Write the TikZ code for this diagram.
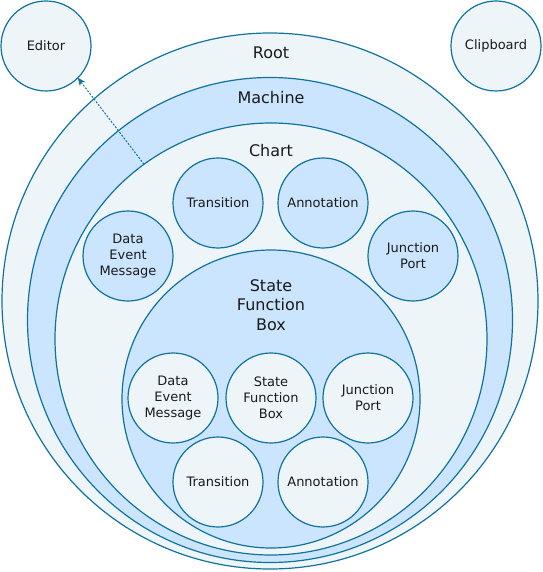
\documentclass[tikz,border=0pt]{standalone}
\usepackage{fontspec}
\setmainfont{DejaVu Sans}
\usetikzlibrary{arrows.meta,positioning}
\definecolor{ringblue}{HTML}{10739E}
\definecolor{palefill}{HTML}{EEF5F9}
\definecolor{lightblue}{HTML}{CCE5FF}
\definecolor{labelgray}{HTML}{1A1A1A}

\begin{document}
\begin{tikzpicture}[x=1pt,y=-1pt,
    ring/.style={circle,draw=ringblue,line width=1.2pt,outer sep=0pt,inner sep=0pt,minimum size=#1},
    item/.style={ring=90pt,text=labelgray,align=center,font=\fontsize{13}{16}\selectfont},
    title/.style={text=labelgray,align=center,font=\fontsize{16}{19.5}\selectfont}]
        \useasboundingbox (0,0) rectangle (542,572);
        %Rings
        \node[ring=536pt,fill=palefill] (root) at (270,301) {};
        \node[title] (rootlabel) at (271,53) {Root};
        \node[ring=485pt,fill=lightblue] (machine) at (270,320) {};
        \node[title] (machinelabel) at (271,98) {Machine};
        \node[ring=432pt,fill=palefill] (chart) at (271,339) {};
        \node[title] (chartlabel) at (271,151) {Chart};
        %Chart items
        \node[item,fill=lightblue] (chartdata) at (128,256) {Data\\Event\\Message};
        \node[item,fill=lightblue] (charttrans) at (218,203) {Transition};
        \node[item,fill=lightblue] (chartnote) at (323,203) {Annotation};
        \node[item,fill=lightblue] (chartjunc) at (413,256) {Junction\\Port};
        %State
        \node[ring=298pt,fill=lightblue] (state) at (271,399) {};
        \node[title] (statelabel) at (271,305) {State\\Function\\Box};
        %State items
        \node[item,fill=palefill] (statedata) at (173,398) {Data\\Event\\Message};
        \node[item,fill=palefill] (statebox) at (271,398) {State\\Function\\Box};
        \node[item,fill=palefill] (statejunc) at (368,398) {Junction\\Port};
        \node[item,fill=palefill] (statetrans) at (218,482) {Transition};
        \node[item,fill=palefill] (statenote) at (323,482) {Annotation};
        %Outside
        \node[item,fill=palefill] (editor) at (46,46) {Editor};
        \node[item,fill=palefill] (clipboard) at (496,46) {Clipboard};
        %Link
        \draw[ringblue,line width=1pt,dash pattern=on 2pt off 1.5pt,-{Stealth[length=8pt,width=7pt]}] (chart.126.7) -- (editor.-45);
\end{tikzpicture}
\end{document}
